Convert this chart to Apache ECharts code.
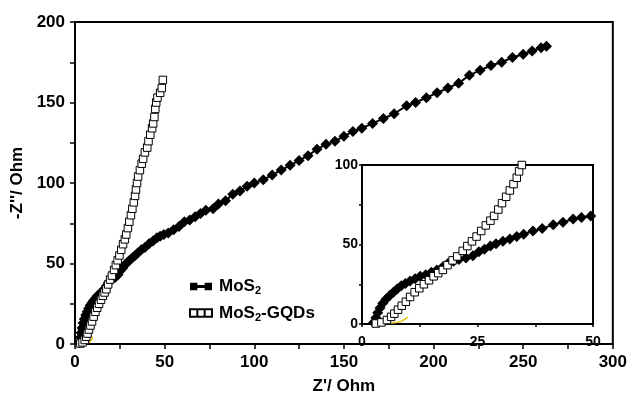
<!DOCTYPE html>
<html>
<head>
<meta charset="utf-8">
<script src="https://cdn.jsdelivr.net/npm/echarts@6/dist/echarts.min.js"></script>
<style>
html,body{margin:0;padding:0;background:#fff;}
#c{width:630px;height:400px;}
</style>
</head>
<body>
<div id="c"></div>
<script>
// ---- data (Z' in Ohm, -Z'' in Ohm) ----
var mos2X = [2.5,3,3.4,3.9,4.5,5.2,6,6.8,7.6,8.5,9.4,10.4,11.5,12.6,13.8,15,16.2,17.5,18.6,19.8,21,22.5,24,25.3,26.5,27.8,29,30.5,32,33.5,35,37,39,41.4,43.5,45.7,47.5,49.5,
  52,55,58,61,64,67,70,73,77,80,84,88,92,96,100,105,110,115,120,125,130,135,140,145,150,155,160,166,172,178,185,190,196,202,208,214,220,226,232,238,244,250,255,260,263];
var mos2Y = [1,4,7,10,13,15.5,18,20,22,24,25.5,27,28.5,30,31,32.5,34,36,38,39.5,40.5,41.5,43,45.5,47,49,50.5,52,53.5,55,56.5,58.5,60,62.5,64,66,67,68,
  69,71,73,76,77,79,81,83,84,87,89,93,95,98,100,102,105,108,111,114,117,121,124,126,129,132,134,137,140,143,148,150,153,156,159,162,167,170,173,175,178,180,182,184,185];
var gqdX = [3,4.2,5.4,6.3,7,7.8,8.6,9.5,10.4,11.4,12.4,13.4,14.5,15.5,16.5,17.5,18.5,19.6,20.6,21.8,22.8,23.8,24.8,25.8,26.8,27.8,28.6,29.5,30.3,31.2,32,32.8,33.5,34,34.6,
  35.2,36.2,37.2,38,39,40.3,41,42,43,43.6,44.3,44.8,45.3,46,47.5,48.4,49];
var gqdY = [0.3,1,2.5,4.5,6.5,9,11.5,14,17,20,22.5,25,27.5,30,32,34,37,40,42.5,46,49,52,55,58.5,62,65,68,72,76,80,84,88,92,96,100,
  104,108,112,115,119,122,126,130,134,137,141,146,150,153,156,159,164];
var yelX = [2,3.5,5,6.5,8,9,10];
var yelY = [0.6,0.3,0.4,0.6,1.2,2.5,4.5];
var mainXTicks = [0,50,100,150,200,250,300];
var mainYTicks = [0,50,100,150,200];
var insetXTicks = [0,25,50];
var insetYTicks = [0,50,100];
var legendNames = ['MoS2','MoS2-GQDs'];

function pairs(xs, ys){ return xs.map(function(x,i){ return [x, ys[i]]; }); }

var chart = echarts.init(document.getElementById('c'), null, {renderer:'canvas'});
var FONT = 'Liberation Sans, Arial, sans-serif';

function axisCommon(min, max, interval, fs, margin, tickLen, lw){
  return {
    type:'value', min:min, max:max, interval:interval,
    splitLine:{show:false},
    axisLine:{show:true, onZero:false, lineStyle:{color:'#000', width:lw}},
    axisTick:{show:true, inside:false, length:tickLen, lineStyle:{color:'#000', width:1.5}},
    minorTick:{show:true, splitNumber:2, length:tickLen, lineStyle:{color:'#000', width:1.5}},
    axisLabel:{color:'#000', fontFamily:FONT, fontWeight:'bold', fontSize:fs, margin:margin}
  };
}

var mx = axisCommon(mainXTicks[0], mainXTicks[mainXTicks.length-1], mainXTicks[1]-mainXTicks[0], 17, 10, 5, 2);
mx.gridIndex = 0; mx.name = "Z'/ Ohm"; mx.nameLocation='middle'; mx.nameGap = 34;
mx.nameTextStyle = {color:'#000', fontFamily:FONT, fontWeight:'bold', fontSize:17};
var my = axisCommon(mainYTicks[0], mainYTicks[mainYTicks.length-1], mainYTicks[1]-mainYTicks[0], 17, 10, 5, 2);
my.gridIndex = 0; my.name = "-Z''/ Ohm"; my.nameLocation='middle'; my.nameGap = 48; my.nameRotate = 90;
my.nameTextStyle = {color:'#000', fontFamily:FONT, fontWeight:'bold', fontSize:17};
var ix = axisCommon(insetXTicks[0], insetXTicks[insetXTicks.length-1], insetXTicks[1]-insetXTicks[0], 14, 11, 3, 2);
ix.gridIndex = 1;
var iy = axisCommon(insetYTicks[0], insetYTicks[insetYTicks.length-1], insetYTicks[1]-insetYTicks[0], 14, 4, 3, 2);
iy.gridIndex = 1;

function mosSeries(xi, yi){
  return {name:legendNames[0], type:'line', xAxisIndex:xi, yAxisIndex:yi, data:pairs(mos2X, mos2Y),
    symbol:'diamond', symbolSize:[11,11], showAllSymbol:true, clip:true,
    lineStyle:{color:'#000', width:2}, itemStyle:{color:'#000', borderColor:'#000', borderWidth:0}, z:3, animation:false};
}
function gqdSeries(xi, yi){
  return {name:legendNames[1], type:'line', xAxisIndex:xi, yAxisIndex:yi, data:pairs(gqdX, gqdY),
    symbol:'rect', symbolSize:[7.5,7.5], showAllSymbol:true, clip:true,
    lineStyle:{color:'#000', width:1}, itemStyle:{color:'#fff', borderColor:'#000', borderWidth:1}, z:4, animation:false};
}
function yelSeries(xi, yi){
  return {name:'bg', type:'line', xAxisIndex:xi, yAxisIndex:yi, data:pairs(yelX, yelY),
    symbol:'none', clip:true, smooth:true, lineStyle:{color:'#e6c619', width:1.5}, z:2, animation:false, silent:true};
}

var option = {
  backgroundColor:'#fff',
  animation:false,
  grid:[
    {left:75, top:22, right:17, bottom:49, show:true, borderColor:'#000', borderWidth:2, backgroundColor:'transparent'},
    {left:362, top:165, right:37, bottom:76, show:true, borderColor:'#000', borderWidth:2, backgroundColor:'#fff', z:5}
  ],
  xAxis:[mx, ix],
  yAxis:[my, iy],
  legend:{
    data:[
      {name:legendNames[0], icon:'path://M0,0H7V7H0Z M7,2H14V5H7Z M14,0H21V7H14Z'},
      {name:legendNames[1], icon:'path://M0,0H7V7H0Z M7,0H14V7H7Z M14,0H21V7H14Z'}
    ],
    orient:'vertical', left:184, top:273, itemWidth:22, itemHeight:8, itemGap:8,
    formatter:function(n){ return n.replace('MoS2','{n|MoS}{s|2}').replace('-GQDs','{n|-GQDs}'); },
    textStyle:{color:'#000', fontFamily:FONT, fontWeight:'bold', fontSize:17, padding:[0,0,0,2],
      rich:{
        n:{color:'#000', fontFamily:FONT, fontWeight:'bold', fontSize:17, lineHeight:20},
        s:{color:'#000', fontFamily:FONT, fontWeight:'bold', fontSize:11, lineHeight:10, verticalAlign:'bottom'}
      }}
  },
  series:[
    yelSeries(0,0), mosSeries(0,0), gqdSeries(0,0),
    yelSeries(1,1), mosSeries(1,1), gqdSeries(1,1)
  ]
};
option.series[4].z = 7; option.series[5].z = 8; option.series[3].z = 6;
chart.setOption(option);
</script>
</body>
</html>
